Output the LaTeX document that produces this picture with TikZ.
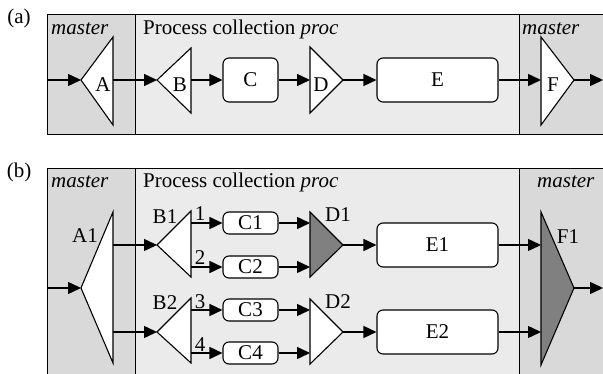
\documentclass[tikz,border=0pt]{standalone}
\usepackage{fontspec}
\setmainfont{Liberation Serif}
\usetikzlibrary{arrows.meta}
\definecolor{masterbg}{RGB}{217,217,217}
\definecolor{procbg}{RGB}{235,235,235}
\definecolor{darkfill}{RGB}{128,128,128}
\begin{document}
\begin{tikzpicture}[x=1pt,y=-1pt,
  every node/.style={font=\fontsize{21}{25}\selectfont},
  conn/.style={line width=1.5pt,-{Triangle[length=13pt,width=12pt]}},
  tri/.style={draw,line width=1.1pt,fill=white,line join=miter},
  darktri/.style={tri,fill=darkfill},
  box/.style={draw,line width=1.1pt,fill=white,rounded corners=6pt,inner sep=0pt},
  lbl/.style={inner sep=0pt},
  hdr/.style={inner sep=0pt,anchor=base west},
  frame/.style={line width=0.8pt}
]
\useasboundingbox (0,0) rectangle (603,374);

% ---------- panel (a) background ----------
\fill[masterbg] (47,14) rectangle (135,134);
\fill[procbg] (135,14) rectangle (519,134);
\fill[masterbg] (519,14) rectangle (606,134);
\draw[frame] (606,14) -- (47,14) -- (47,134) -- (606,134);
\draw[frame] (135,14) -- (135,134);
\draw[frame] (519,14) -- (519,134);

\node[lbl] (la) at (19,18) {(a)};
\node[hdr] (ma1) at (51,35) {\textit{master}};
\node[hdr] (pa) at (143,35) {Process collection \textit{proc}};
\node[hdr] (ma2) at (522,35) {\textit{master}};

% triangles (a)
\draw[tri] (113,37) -- (113,125) -- (81,80) -- cycle;
\draw[tri] (191,48) -- (191,113) -- (157,80) -- cycle;
\draw[tri] (310,47) -- (310,113) -- (343,80) -- cycle;
\draw[tri] (541,37) -- (541,125) -- (574,80) -- cycle;
\coordinate (inA) at (47,80);
\coordinate (Atip) at (81,80);
\coordinate (Aout) at (113,80);
\coordinate (Btip) at (157,80);
\coordinate (Bout) at (191,80);
\coordinate (Din) at (310,80);
\coordinate (Dtip) at (343,80);
\coordinate (Fin) at (541,80);
\coordinate (Ftip) at (574,80);
\coordinate (outF) at (603,80);

\node[lbl] (Alab) at (103,85) {A};
\node[lbl] (Blab) at (180,85) {B};
\node[lbl] (Dlab) at (321,85) {D};
\node[lbl] (Flab) at (553,85) {F};

\node[box,minimum width=55pt,minimum height=44pt] (C) at (250.5,80) {C};
\node[box,minimum width=121pt,minimum height=44pt] (E) at (437.5,80) {E};

\draw[conn] (inA) -- (Atip);
\draw[conn] (Aout) -- (Btip);
\draw[conn] (Bout) -- (C.west);
\draw[conn] (C.east) -- (Din);
\draw[conn] (Dtip) -- (E.west);
\draw[conn] (E.east) -- (Fin);
\draw[conn] (Ftip) -- (outF);

% ---------- panel (b) background ----------
\fill[masterbg] (47,168) rectangle (135,376);
\fill[procbg] (135,168) rectangle (519,376);
\fill[masterbg] (519,168) rectangle (606,376);
\draw[frame] (606,168) -- (47,168) -- (47,376);
\draw[frame] (135,168) -- (135,376);
\draw[frame] (519,168) -- (519,376);

\node[lbl] (lb) at (19,172) {(b)};
\node[hdr] (mb1) at (51,188) {\textit{master}};
\node[hdr] (pb) at (143,188) {Process collection \textit{proc}};
\node[hdr] (mb2) at (537,188) {\textit{master}};

% triangles (b)
\draw[tri] (113,212) -- (113,363) -- (81,288) -- cycle;
\draw[tri] (191,211) -- (191,277) -- (157,245) -- cycle;
\draw[tri] (191,298) -- (191,363) -- (157,332) -- cycle;
\draw[darktri] (310,212) -- (310,277) -- (343,245) -- cycle;
\draw[tri] (310,299) -- (310,364) -- (343,332) -- cycle;
\draw[darktri] (541,212) -- (541,365) -- (574,288) -- cycle;

\coordinate (inA1) at (47,288);
\coordinate (A1tip) at (81,288);
\coordinate (A1o1) at (113,245);
\coordinate (A1o2) at (113,332);
\coordinate (B1tip) at (157,245);
\coordinate (B2tip) at (157,332);
\coordinate (B1o1) at (191,223);
\coordinate (B1o2) at (191,267);
\coordinate (B2o1) at (191,310);
\coordinate (B2o2) at (191,353);
\coordinate (D1i1) at (310,223);
\coordinate (D1i2) at (310,267);
\coordinate (D2i1) at (310,310);
\coordinate (D2i2) at (310,353);
\coordinate (D1tip) at (343,245);
\coordinate (D2tip) at (343,332);
\coordinate (F1i1) at (541,245);
\coordinate (F1i2) at (541,332);
\coordinate (F1tip) at (574,288);
\coordinate (outF1) at (603,288);

\node[box,minimum width=55pt,minimum height=22pt] (C1) at (250.5,223) {C1};
\node[box,minimum width=55pt,minimum height=22pt] (C2) at (250.5,267) {C2};
\node[box,minimum width=55pt,minimum height=22pt] (C3) at (250.5,310) {C3};
\node[box,minimum width=55pt,minimum height=22pt] (C4) at (250.5,353) {C4};
\node[box,minimum width=121pt,minimum height=44pt] (E1) at (437.5,245) {E1};
\node[box,minimum width=121pt,minimum height=44pt] (E2) at (437.5,332) {E2};

\node[lbl] (A1lab) at (85,236) {A1};
\node[lbl] (B1lab) at (165,217) {B1};
\node[lbl] (B2lab) at (165,303) {B2};
\node[lbl] (n1) at (200,214) {1};
\node[lbl] (n2) at (200,258) {2};
\node[lbl] (n3) at (200,302) {3};
\node[lbl] (n4) at (200,345) {4};
\node[lbl] (D1lab) at (338,215) {D1};
\node[lbl] (D2lab) at (338,302) {D2};
\node[lbl] (F1lab) at (568,237) {F1};

\draw[conn] (inA1) -- (A1tip);
\draw[conn] (A1o1) -- (B1tip);
\draw[conn] (A1o2) -- (B2tip);
\draw[conn] (B1o1) -- (C1.west);
\draw[conn] (B1o2) -- (C2.west);
\draw[conn] (B2o1) -- (C3.west);
\draw[conn] (B2o2) -- (C4.west);
\draw[conn] (C1.east) -- (D1i1);
\draw[conn] (C2.east) -- (D1i2);
\draw[conn] (C3.east) -- (D2i1);
\draw[conn] (C4.east) -- (D2i2);
\draw[conn] (D1tip) -- (E1.west);
\draw[conn] (D2tip) -- (E2.west);
\draw[conn] (E1.east) -- (F1i1);
\draw[conn] (E2.east) -- (F1i2);
\draw[conn] (F1tip) -- (outF1);
\end{tikzpicture}
\end{document}
